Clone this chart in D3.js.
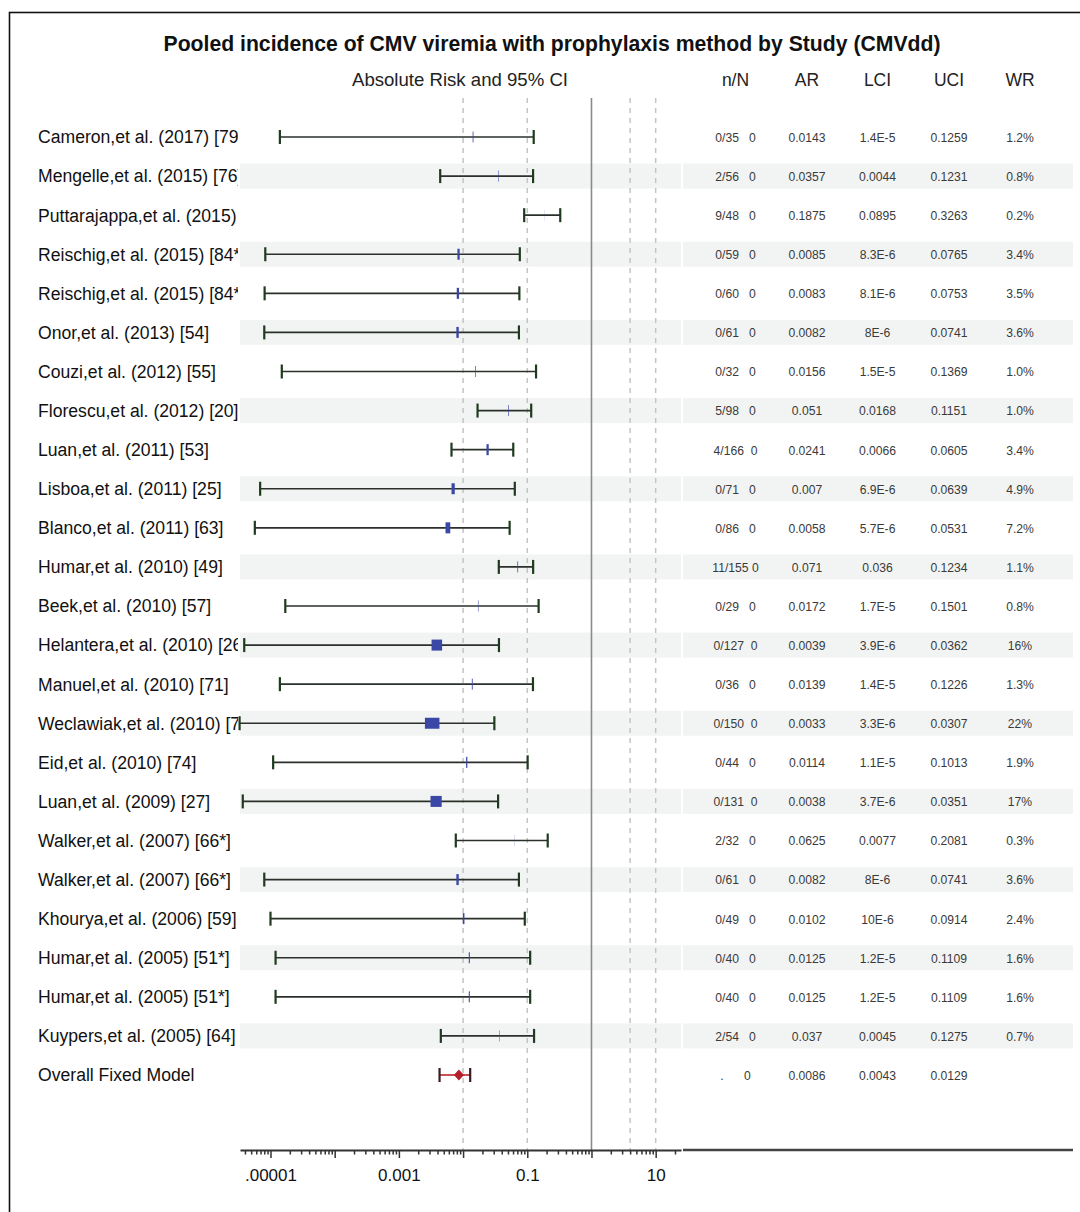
<!DOCTYPE html>
<html>
<head>
<meta charset="utf-8">
<script src="https://cdn.jsdelivr.net/npm/d3@7"></script>
<style>
  body { margin: 0; background: #fff; }
  svg { font-family: "Liberation Sans", Arial, sans-serif; }
</style>
</head>
<body>
<svg id="chart"></svg>
<script>
// study rows
const studies = [
    "Cameron,et al. (2017) [79]", "Mengelle,et al. (2015) [76]", "Puttarajappa,et al. (2015)",
    "Reischig,et al. (2015) [84*]", "Reischig,et al. (2015) [84*]", "Onor,et al. (2013) [54]",
    "Couzi,et al. (2012) [55]", "Florescu,et al. (2012) [20]", "Luan,et al. (2011) [53]",
    "Lisboa,et al. (2011) [25]", "Blanco,et al. (2011) [63]", "Humar,et al. (2010) [49]",
    "Beek,et al. (2010) [57]", "Helantera,et al. (2010) [26]", "Manuel,et al. (2010) [71]",
    "Weclawiak,et al. (2010) [7", "Eid,et al. (2010) [74]", "Luan,et al. (2009) [27]",
    "Walker,et al. (2007) [66*]", "Walker,et al. (2007) [66*]", "Khourya,et al. (2006) [59]",
    "Humar,et al. (2005) [51*]", "Humar,et al. (2005) [51*]", "Kuypers,et al. (2005) [64]"
];
const nN = ["0/35", "2/56", "9/48", "0/59", "0/60", "0/61", "0/32", "5/98", "4/166", "0/71", "0/86", "11/155",
    "0/29", "0/127", "0/36", "0/150", "0/44", "0/131", "2/32", "0/61", "0/49", "0/40", "0/40", "2/54"];
const AR = ["0.0143", "0.0357", "0.1875", "0.0085", "0.0083", "0.0082", "0.0156", "0.051", "0.0241", "0.007",
    "0.0058", "0.071", "0.0172", "0.0039", "0.0139", "0.0033", "0.0114", "0.0038", "0.0625", "0.0082",
    "0.0102", "0.0125", "0.0125", "0.037"];
const LCI = ["1.4E-5", "0.0044", "0.0895", "8.3E-6", "8.1E-6", "8E-6", "1.5E-5", "0.0168", "0.0066", "6.9E-6",
    "5.7E-6", "0.036", "1.7E-5", "3.9E-6", "1.4E-5", "3.3E-6", "1.1E-5", "3.7E-6", "0.0077", "8E-6",
    "10E-6", "1.2E-5", "1.2E-5", "0.0045"];
const UCI = ["0.1259", "0.1231", "0.3263", "0.0765", "0.0753", "0.0741", "0.1369", "0.1151", "0.0605", "0.0639",
    "0.0531", "0.1234", "0.1501", "0.0362", "0.1226", "0.0307", "0.1013", "0.0351", "0.2081", "0.0741",
    "0.0914", "0.1109", "0.1109", "0.1275"];
const WR = ["1.2%", "0.8%", "0.2%", "3.4%", "3.5%", "3.6%", "1.0%", "1.0%", "3.4%", "4.9%", "7.2%", "1.1%",
    "0.8%", "16%", "1.3%", "22%", "1.9%", "17%", "0.3%", "3.6%", "2.4%", "1.6%", "1.6%", "0.7%"];

// pooled estimate
const overallLabel = "Overall Fixed Model";
const overall = { nN: ".", AR: "0.0086", LCI: "0.0043", UCI: "0.0129" };

const tickLabelValues = [1e-5, 1e-3, 0.1, 10];
const tickLabels = [".00001", "0.001", "0.1", "10"];
const refLines = [0.01, 0.1, 4, 10];

const W = 1080, H = 1212;
const svg = d3.select("#chart").attr("width", W).attr("height", H);

// frame
svg.append("rect")
    .attr("x", 9.5).attr("y", 12.5)
    .attr("width", W + 20).attr("height", H + 20)
    .attr("fill", "none").attr("stroke", "#111").attr("stroke-width", 1.6);

svg.append("text")
    .attr("x", 552).attr("y", 51)
    .attr("text-anchor", "middle")
    .attr("font-weight", "bold").attr("font-size", 21.2)
    .attr("fill", "#111")
    .text("Pooled incidence of CMV viremia with prophylaxis method by Study (CMVdd)");

svg.append("text")
    .attr("x", 460).attr("y", 86)
    .attr("text-anchor", "middle").attr("font-size", 18.6)
    .attr("fill", "#222")
    .text("Absolute Risk and 95% CI");

const colX = [735.5, 807, 877.5, 949, 1020];
const colHead = ["n/N", "AR", "LCI", "UCI", "WR"];
svg.selectAll(".colhead")
    .data(colHead)
    .enter().append("text")
    .attr("class", "colhead")
    .attr("x", (d, i) => colX[i]).attr("y", 86)
    .attr("text-anchor", "middle").attr("font-size", 17.5)
    .attr("fill", "#222")
    .text(d => d);

// scales
const x = d3.scaleLog().domain([3.35e-6, 24.8]).range([240, 681]);
const y = d3.scalePoint().domain(d3.range(studies.length + 1)).range([137, 1075]);
const axisY = 1150;

const rows = studies.map((s, i) => ({
    label: s, nN: nN[i], AR: AR[i], LCI: LCI[i], UCI: UCI[i], WR: WR[i], i: i
}));

// alternating bands
const banded = rows.filter(d => d.i % 2 === 1);
[[240, 681], [683, 1073]].forEach(([x0, x1]) => {
    svg.selectAll(null)
        .data(banded)
        .enter().append("rect")
        .attr("x", x0).attr("width", x1 - x0)
        .attr("y", d => y(d.i) - 12.5).attr("height", 25)
        .attr("fill", "#f2f4f3");
});

// reference lines
svg.selectAll(".ref")
    .data(refLines)
    .enter().append("line")
    .attr("x1", d => x(d)).attr("x2", d => x(d))
    .attr("y1", 98).attr("y2", axisY)
    .attr("stroke", "#c4c4c4").attr("stroke-width", 1.5)
    .attr("stroke-dasharray", "5,5");

svg.append("line")
    .attr("x1", x(1)).attr("x2", x(1))
    .attr("y1", 98).attr("y2", axisY)
    .attr("stroke", "#8a8a8a").attr("stroke-width", 1.6);

// row labels, clipped at the plot edge
svg.append("clipPath").attr("id", "labclip")
    .append("rect").attr("x", 0).attr("y", 0).attr("width", 238).attr("height", H);

const labG = svg.append("g").attr("clip-path", "url(#labclip)");
labG.selectAll("text")
    .data(rows.map(d => d.label).concat([overallLabel]))
    .enter().append("text")
    .attr("x", 38).attr("y", (d, i) => y(i))
    .attr("dy", "0.36em")
    .attr("font-size", 17.6).attr("fill", "#111")
    .text(d => d);

// confidence intervals
const ci = svg.selectAll(".ci")
    .data(rows)
    .enter().append("g").attr("class", "ci");

ci.append("line")
    .attr("x1", d => x(+d.LCI)).attr("x2", d => x(+d.UCI))
    .attr("y1", d => y(d.i)).attr("y2", d => y(d.i))
    .attr("stroke", "#2b302b").attr("stroke-width", 1.7);

ci.selectAll(".cap")
    .data(d => [[+d.LCI, d.i], [+d.UCI, d.i]])
    .enter().append("line")
    .attr("x1", d => x(d[0])).attr("x2", d => x(d[0]))
    .attr("y1", d => y(d[1]) - 7).attr("y2", d => y(d[1]) + 7)
    .attr("stroke", "#1f3a1f").attr("stroke-width", 2.2);

// point estimate boxes, width by weight
ci.append("rect")
    .attr("x", d => x(+d.AR) - parseFloat(d.WR) * 0.33)
    .attr("width", d => parseFloat(d.WR) * 0.66)
    .attr("y", d => y(d.i) - 5.5).attr("height", 11)
    .attr("fill", "#3b47a6");

// overall
const oy = y(studies.length);
svg.append("line")
    .attr("x1", x(+overall.LCI)).attr("x2", x(+overall.UCI))
    .attr("y1", oy).attr("y2", oy)
    .attr("stroke", "#c0303a").attr("stroke-width", 1.7);
[+overall.LCI, +overall.UCI].forEach(v => {
    svg.append("line")
        .attr("x1", x(v)).attr("x2", x(v))
        .attr("y1", oy - 7).attr("y2", oy + 7)
        .attr("stroke", "#3a1c1c").attr("stroke-width", 2.2);
});
const ox = x(+overall.AR);
svg.append("path")
    .attr("d", `M${ox - 5},${oy}L${ox},${oy - 5.5}L${ox + 5},${oy}L${ox},${oy + 5.5}Z`)
    .attr("fill", "#b51f2a");

// table values
const tableRows = rows.concat([{ nN: overall.nN, AR: overall.AR, LCI: overall.LCI, UCI: overall.UCI, WR: "", i: studies.length }]);
const cells = [
    d => d.nN.padEnd(6, " ") + " 0",
    d => d.AR, d => d.LCI, d => d.UCI, d => d.WR
];
cells.forEach((f, c) => {
    svg.selectAll(null)
        .data(tableRows)
        .enter().append("text")
        .attr("transform", d => `translate(${colX[c]},${y(d.i)}) scale(0.9,1)`)
        .attr("dy", "0.36em")
        .attr("text-anchor", "middle")
        .attr("font-size", 13.5).attr("fill", "#3a3a3a")
        .style("white-space", "pre")
        .text(f);
});

// log axis
const isMajor = v => Math.abs(Math.log10(v) - Math.round(Math.log10(v))) < 1e-6;
const labelFor = v => {
    const k = tickLabelValues.findIndex(t => Math.abs(Math.log10(t) - Math.log10(v)) < 1e-6);
    return k < 0 ? "" : tickLabels[k];
};
const ax = svg.append("g")
    .attr("transform", `translate(0,${axisY})`)
    .call(d3.axisBottom(x).tickValues(x.ticks()).tickSizeOuter(0).tickFormat(labelFor));
ax.select(".domain").attr("stroke", "#333").attr("stroke-width", 2);
ax.selectAll(".tick line")
    .attr("y2", d => isMajor(d) ? 8 : 4.5)
    .attr("stroke", "#333").attr("stroke-width", 1.5);
ax.selectAll(".tick text")
    .attr("y", 19).attr("font-size", 17).attr("fill", "#111")
    .attr("font-family", "Liberation Sans, Arial, sans-serif");

// table baseline
svg.append("line")
    .attr("x1", 683).attr("x2", 1073)
    .attr("y1", axisY).attr("y2", axisY)
    .attr("stroke", "#444").attr("stroke-width", 2.4);
</script>
</body>
</html>
